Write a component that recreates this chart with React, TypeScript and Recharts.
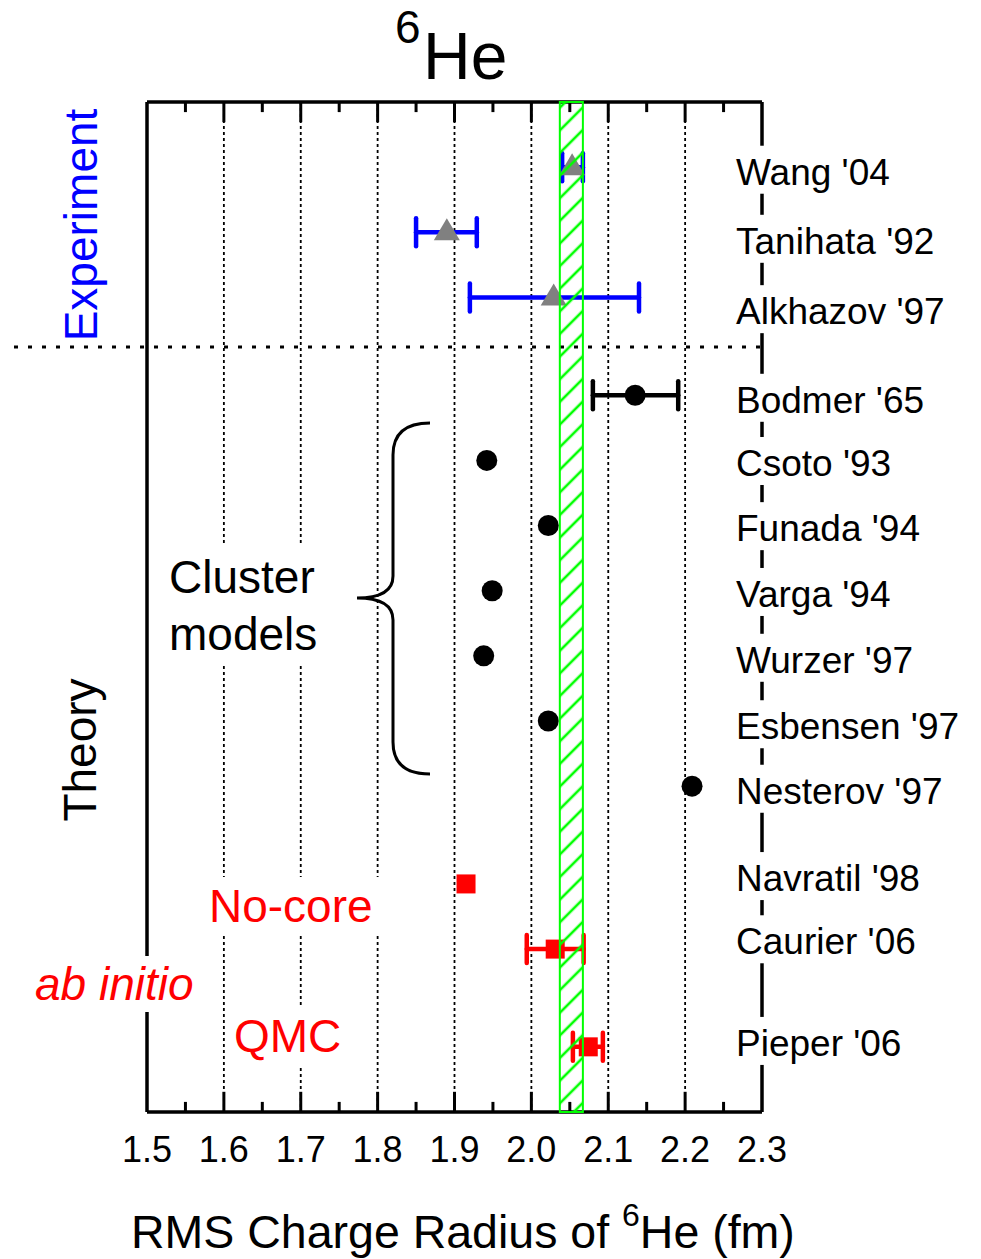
import { ScatterChart, Scatter, XAxis, YAxis, CartesianGrid, ErrorBar, ReferenceLine, ReferenceArea } from 'recharts'

const FONT = '"Liberation Sans", Arial, Helvetica, sans-serif'

// RMS charge radius of 6He in fm; rows count down from the top of the frame
const expRadius = [2.053, 1.890, 2.029]
const expLow = [2.040, 1.850, 1.920]
const expHigh = [2.067, 1.929, 2.140]
const expRows = [1, 2, 3]

const bodmerRadius = [2.135]
const bodmerLow = [2.080]
const bodmerHigh = [2.191]
const bodmerRows = [4.5]

const clusterRadius = [1.942, 2.022, 1.949, 1.938, 2.022, 2.209]
const clusterRows = [5.5, 6.5, 7.5, 8.5, 9.5, 10.5]

const ncsmRadius = [1.915]
const ncsmRows = [12]

const abInitioRadius = [2.031, 2.074]
const abInitioLow = [1.994, 2.054]
const abInitioHigh = [2.068, 2.093]
const abInitioRows = [13, 14.5]

// Wang '04 result shown as a band
const bandLow = 2.037
const bandHigh = 2.067

const refNames = [
  "Wang '04", "Tanihata '92", "Alkhazov '97", "Bodmer '65", "Csoto '93", "Funada '94", "Varga '94",
  "Wurzer '97", "Esbensen '97", "Nesterov '97", "Navratil '98", "Caurier '06", "Pieper '06",
]
const refRows = [1.07, 2.13, 3.21, 4.57, 5.54, 6.54, 7.55, 8.56, 9.58, 10.57, 11.91, 12.88, 14.44]

const xTicks = [1.5, 1.6, 1.7, 1.8, 1.9, 2.0, 2.1, 2.2, 2.3]
const majorTicks = [1.6, 1.7, 1.8, 1.9, 2.0, 2.1, 2.2]
const minorTicks = [1.55, 1.65, 1.75, 1.85, 1.95, 2.05, 2.15, 2.25]

const ROW_MAX = 15.5
const SEPARATOR_ROW = 3.76
const MAJOR_LEN = 0.31
const MINOR_LEN = 0.155

const withErr = (r: number[], lo: number[], hi: number[], rows: number[]) =>
  r.map((v, i) => ({ x: v, y: rows[i], err: [v - lo[i], hi[i] - v] }))
const plain = (r: number[], rows: number[]) => r.map((v, i) => ({ x: v, y: rows[i] }))

const expData = withErr(expRadius, expLow, expHigh, expRows)
const bodmerData = withErr(bodmerRadius, bodmerLow, bodmerHigh, bodmerRows)
const clusterData = plain(clusterRadius, clusterRows)
const ncsmData = plain(ncsmRadius, ncsmRows)
const abInitioData = withErr(abInitioRadius, abInitioLow, abInitioHigh, abInitioRows)

const Triangle = ({ cx, cy }: any) => (
  <path d={`M${cx},${cy - 14} L${cx + 13},${cy + 8} L${cx - 13},${cy + 8} Z`} fill="#808080" />
)
const Dot = ({ cx, cy }: any) => <circle cx={cx} cy={cy} r={10.5} fill="#000" />
const Square = ({ cx, cy }: any) => <rect x={cx - 9.5} y={cy - 9.5} width={19} height={19} fill="#ff0000" />

function RefTick({ x, y, payload }: any) {
  const i = refRows.indexOf(payload.value)
  return (
    <g>
      <rect x={x - 8} y={y - 26} width={16} height={48} fill="#fff" />
      <text x={x - 26} y={y + 13} fontSize={37} fontFamily={FONT} fill="#000">{refNames[i]}</text>
    </g>
  )
}

const frame = { stroke: '#000', strokeWidth: 3.5 }

export default function App() {
  return (
    <div style={{ position: 'absolute', left: 0, top: 0, width: 975, height: 1259, background: '#fff', fontFamily: FONT }}>
      <ScatterChart width={975} height={1255} margin={{ top: 102, right: 0, bottom: 83, left: 147 }}>
        <CartesianGrid horizontal={false} stroke="#000" strokeDasharray="3 3" strokeWidth={1.8} />
        <XAxis
          type="number" dataKey="x" domain={[1.5, 2.3]} allowDataOverflow ticks={xTicks} interval={0}
          tickFormatter={(v: number) => v.toFixed(1)} height={60}
          axisLine={frame} tickLine={false} tickSize={0} tickMargin={24}
          tick={{ fill: '#000', fontSize: 36, fontFamily: FONT }}
        />
        <YAxis
          type="number" dataKey="y" orientation="right" domain={[0, ROW_MAX]} reversed allowDataOverflow
          ticks={refRows} interval={0} width={213}
          axisLine={frame} tickLine={false} tickSize={0} tickMargin={0}
          tick={(p: any) => <RefTick {...p} />}
        />

        <ReferenceLine x={1.5} {...frame} />
        <ReferenceLine y={0} {...frame} />
        <ReferenceLine
          segment={[{ x: 1.327, y: SEPARATOR_ROW }, { x: 2.3, y: SEPARATOR_ROW }]}
          ifOverflow="visible" stroke="#000" strokeWidth={3} strokeDasharray="4 10"
        />
        {majorTicks.map((v) => (
          <ReferenceLine key={'mb' + v} segment={[{ x: v, y: ROW_MAX }, { x: v, y: ROW_MAX - MAJOR_LEN }]} stroke="#000" strokeWidth={3} />
        ))}
        {majorTicks.map((v) => (
          <ReferenceLine key={'mt' + v} segment={[{ x: v, y: 0 }, { x: v, y: MAJOR_LEN }]} stroke="#000" strokeWidth={3} />
        ))}
        {minorTicks.map((v) => (
          <ReferenceLine key={'nb' + v} segment={[{ x: v, y: ROW_MAX }, { x: v, y: ROW_MAX - MINOR_LEN }]} stroke="#000" strokeWidth={3} />
        ))}
        {minorTicks.map((v) => (
          <ReferenceLine key={'nt' + v} segment={[{ x: v, y: 0 }, { x: v, y: MINOR_LEN }]} stroke="#000" strokeWidth={3} />
        ))}

        <Scatter data={expData} shape={Triangle} isAnimationActive={false}>
          <ErrorBar dataKey="err" direction="x" width={14} stroke="#0000ff" strokeWidth={4.5} strokeLinecap="round" isAnimationActive={false} />
        </Scatter>
        <Scatter data={bodmerData} shape={Dot} isAnimationActive={false}>
          <ErrorBar dataKey="err" direction="x" width={14} stroke="#000" strokeWidth={4.5} strokeLinecap="round" isAnimationActive={false} />
        </Scatter>
        <Scatter data={clusterData} shape={Dot} isAnimationActive={false} />
        <Scatter data={ncsmData} shape={Square} isAnimationActive={false} />
        <Scatter data={abInitioData} shape={Square} isAnimationActive={false}>
          <ErrorBar dataKey="err" direction="x" width={14} stroke="#ff0000" strokeWidth={4.5} strokeLinecap="round" isAnimationActive={false} />
        </Scatter>

        <ReferenceArea
          x1={bandLow} x2={bandHigh} fill="url(#hatch)" fillOpacity={1}
          stroke="#00ff00" strokeWidth={2} ifOverflow="visible" zIndex={650}
        />
      </ScatterChart>

      <svg width={975} height={1259} style={{ position: 'absolute', left: 0, top: 0, pointerEvents: 'none' }} fontFamily={FONT}>
        <defs>
          <pattern id="hatch" width={16} height={16} patternUnits="userSpaceOnUse" patternTransform="rotate(45)">
            <line x1={8} y1={0} x2={8} y2={16} stroke="#00ff00" strokeWidth={2.6} />
          </pattern>
        </defs>

        <text x={395} y={43} fontSize={46}>6</text>
        <text x={423} y={79} fontSize={66}>He</text>

        <text x={131} y={1248} fontSize={46.5}>
          RMS Charge Radius of <tspan dy={-22} fontSize={32}>6</tspan>
          <tspan dy={22} fontSize={46.5}>He (fm)</tspan>
        </text>

        <text transform="translate(97,225) rotate(-90)" textAnchor="middle" fontSize={46} fill="#0000ff">Experiment</text>
        <text transform="translate(96,750) rotate(-90)" textAnchor="middle" fontSize={46} fill="#000">Theory</text>

        <rect x={163} y={546} width={160} height={120} fill="#fff" />
        <text x={169} y={593} fontSize={46}>Cluster</text>
        <text x={169} y={650} fontSize={46}>models</text>
        <path
          d="M430,423 Q393,423 393,455 L393,576 Q393,598 357,598 Q393,598 393,620 L393,742 Q393,774 430,774"
          fill="none" stroke="#000" strokeWidth={3}
        />

        <rect x={205} y={877} width={178} height={56} fill="#fff" />
        <text x={209} y={922} fontSize={46} fill="#ff0000">No-core</text>
        <rect x={30} y={956} width={172} height={56} fill="#fff" />
        <text x={35} y={1000} fontSize={46} fontStyle="italic" fill="#ff0000">ab initio</text>
        <rect x={230} y={1007} width={115} height={58} fill="#fff" />
        <text x={234} y={1052} fontSize={46} fill="#ff0000">QMC</text>
      </svg>
    </div>
  )
}
